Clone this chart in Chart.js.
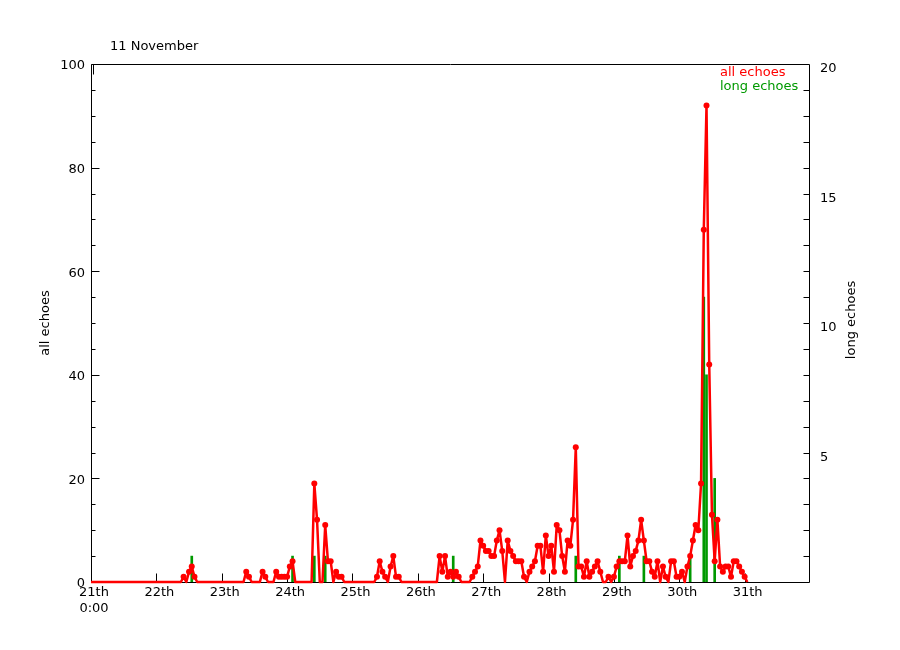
<!DOCTYPE html>
<html>
<head>
<meta charset="utf-8">
<script src="https://cdn.jsdelivr.net/npm/chart.js@4.4.0/dist/chart.umd.min.js"></script>
<style>
  html, body { margin: 0; padding: 0; background: #fff; }
</style>
</head>
<body>
<canvas id="echoChart" width="900" height="650"></canvas>
<script>
// Day tick labels (one tick every 24 hours, starting 21th 0:00)
const dayLabels = ['21th', '22th', '23th', '24th', '25th', '26th', '27th', '28th', '29th', '30th', '31th'];
const leftTicks = [0, 20, 40, 60, 80, 100];
const rightTicks = [5, 10, 15, 20];

// Hourly counts of all echoes, hour 0 = 21th 0:00
const allEchoes = [
    0, 0, 0, 0, 0, 0, 0, 0, 0, 0, 0, 0, 0, 0, 0, 0, 0, 0, 0, 0, 0, 0, 0, 0,      // 21th
    0, 0, 0, 0, 0, 0, 0, 0, 0, 0, 1, 0, 2, 3, 1, 0, 0, 0, 0, 0, 0, 0, 0, 0,      // 22th
    0, 0, 0, 0, 0, 0, 0, 0, 0, 2, 1, 0, 0, 0, 0, 2, 1, 0, 0, 0, 2, 1, 1, 1,      // 23th
    1, 3, 4, 0, 0, 0, 0, 0, 0, 0, 19, 12, 0, 0, 11, 4, 4, 0, 2, 1, 1, 0, 0, 0,  // 24th
    0, 0, 0, 0, 0, 0, 0, 0, 0, 1, 4, 2, 1, 0, 3, 5, 1, 1, 0, 0, 0, 0, 0, 0,      // 25th
    0, 0, 0, 0, 0, 0, 0, 0, 5, 2, 5, 1, 2, 1, 2, 1, 0, 0, 0, 0, 1, 2, 3, 8,      // 26th
    7, 6, 6, 5, 5, 8, 10, 6, 0, 8, 6, 5, 4, 4, 4, 1, 0, 2, 3, 4, 7, 7, 2, 9,     // 27th
    5, 7, 2, 11, 10, 5, 2, 8, 7, 12, 26, 3, 3, 1, 4, 1, 2, 3, 4, 2, 0, 0, 1, 0,  // 28th
    1, 3, 4, 4, 4, 9, 3, 5, 6, 8, 12, 8, 4, 4, 2, 1, 4, 0, 3, 1, 0, 4, 4, 1,     // 29th
    1, 2, 0, 3, 5, 8, 11, 10, 19, 68, 92, 42, 13, 4, 12, 3, 2, 3, 3, 1, 4, 4, 3, 2, // 30th
    1, 0                                                                          // 31th
];

// Long echoes: hour of the sample and its count
const longHours = [37, 74, 82, 86, 133, 178, 194, 203, 220, 225, 226, 229];
const longCounts = [1, 1, 1, 1, 1, 1, 1, 1, 1, 11, 8, 4];

const RED = '#ff0000';
const GREEN = '#009900';
const FONT_FAMILY = '"DejaVu Sans", sans-serif';

const allPoints = allEchoes.map((v, h) => ({ x: h, y: v }));
const longPoints = longHours.map((h, i) => ({ x: h, y: longCounts[i] }));

// frame, inward tick marks and the free-standing labels
const decorations = {
    id: 'decorations',
    beforeDatasetsDraw(chart) {
        const { ctx, chartArea: a, scales } = chart;
        const L = a.left + 0.5, R = a.right - 0.5, T = a.top + 0.5, B = a.bottom + 0.5;
        ctx.save();
        ctx.strokeStyle = '#000';
        ctx.lineWidth = 1;
        ctx.beginPath();
        ctx.moveTo(L, T); ctx.lineTo(R, T); ctx.lineTo(R, B); ctx.lineTo(L, B); ctx.closePath();
        for (let v = 0; v <= 100; v += 5) {
            const y = Math.round(scales.y.getPixelForValue(v)) + 0.5;
            ctx.moveTo(L, y); ctx.lineTo(L + (leftTicks.includes(v) ? 8 : 4), y);
        }
        for (let v = 1; v < 20; v++) {
            const y = Math.round(scales.y2.getPixelForValue(v)) + 0.5;
            ctx.moveTo(R, y); ctx.lineTo(R - 6, y);
        }
        dayLabels.forEach((_, i) => {
            const x = Math.round(scales.x.getPixelForValue(i * 24)) + 0.5;
            ctx.moveTo(x, B); ctx.lineTo(x, B - 9);
        });
        ctx.moveTo(L + 2, T); ctx.lineTo(L + 2, T + 10);
        ctx.stroke();
        ctx.restore();
    },
    afterDraw(chart) {
        const ctx = chart.ctx;
        ctx.save();
        ctx.font = '13px ' + FONT_FAMILY;
        ctx.textBaseline = 'middle';
        ctx.textAlign = 'left';
        ctx.fillStyle = '#000';
        ctx.fillText('11 November', 110, 47);
        ctx.fillStyle = RED;
        ctx.fillText('all echoes', 720, 73);
        ctx.fillStyle = GREEN;
        ctx.fillText('long echoes', 720, 87);

        ctx.fillStyle = '#000';
        ctx.textAlign = 'center';
        ctx.translate(46, 323);
        ctx.rotate(-Math.PI / 2);
        ctx.fillText('all echoes', 0, 0);
        ctx.setTransform(1, 0, 0, 1, 0, 0);
        ctx.translate(852, 320);
        ctx.rotate(-Math.PI / 2);
        ctx.fillText('long echoes', 0, 0);
        ctx.restore();
    }
};

const tickFont = { family: FONT_FAMILY, size: 13 };

new Chart(document.getElementById('echoChart'), {
    type: 'line',
    data: {
        datasets: [{
            label: 'all echoes',
            data: allPoints,
            yAxisID: 'y',
            borderColor: RED,
            backgroundColor: RED,
            borderWidth: 2.5,
            borderJoinStyle: 'round',
            tension: 0,
            clip: 4,
            pointRadius: ctx => (ctx.raw && ctx.raw.y > 0 ? 3 : 0),
            pointBackgroundColor: RED,
            pointBorderColor: RED,
            pointBorderWidth: 0,
            order: 0
        }, {
            type: 'bar',
            label: 'long echoes',
            data: longPoints,
            yAxisID: 'y2',
            backgroundColor: GREEN,
            barThickness: 2,
            order: 1
        }]
    },
    options: {
        responsive: false,
        animation: false,
        layout: { padding: { top: 64, left: 0, right: 0, bottom: 0 } },
        plugins: {
            legend: { display: false },
            tooltip: { enabled: false }
        },
        scales: {
            x: {
                type: 'linear',
                min: 0,
                max: 264,
                offset: false,
                grid: { display: false, drawTicks: false },
                border: { display: false },
                ticks: {
                    stepSize: 24,
                    autoSkip: false,
                    maxRotation: 0,
                    padding: 3,
                    labelOffset: 3,
                    color: '#000',
                    font: tickFont,
                    callback: v => {
                        const i = v / 24;
                        if (i === 0) return [dayLabels[0], '0:00'];
                        return i < dayLabels.length ? dayLabels[i] : '';
                    }
                },
                afterFit: s => { s.height = 68; }
            },
            y: {
                position: 'left',
                min: 0,
                max: 100,
                grid: { display: false, drawTicks: false },
                border: { display: false },
                ticks: { stepSize: 20, padding: 6, labelOffset: 2, color: '#000', font: tickFont },
                afterFit: s => { s.width = 91; }
            },
            y2: {
                position: 'right',
                min: 0,
                max: 20,
                grid: { display: false, drawTicks: false },
                border: { display: false },
                ticks: {
                    stepSize: 5,
                    padding: 10,
                    labelOffset: 5,
                    color: '#000',
                    font: tickFont,
                    callback: v => (rightTicks.includes(v) ? v : '')
                },
                afterFit: s => { s.width = 90; }
            }
        }
    },
    plugins: [decorations]
});
</script>
</body>
</html>
